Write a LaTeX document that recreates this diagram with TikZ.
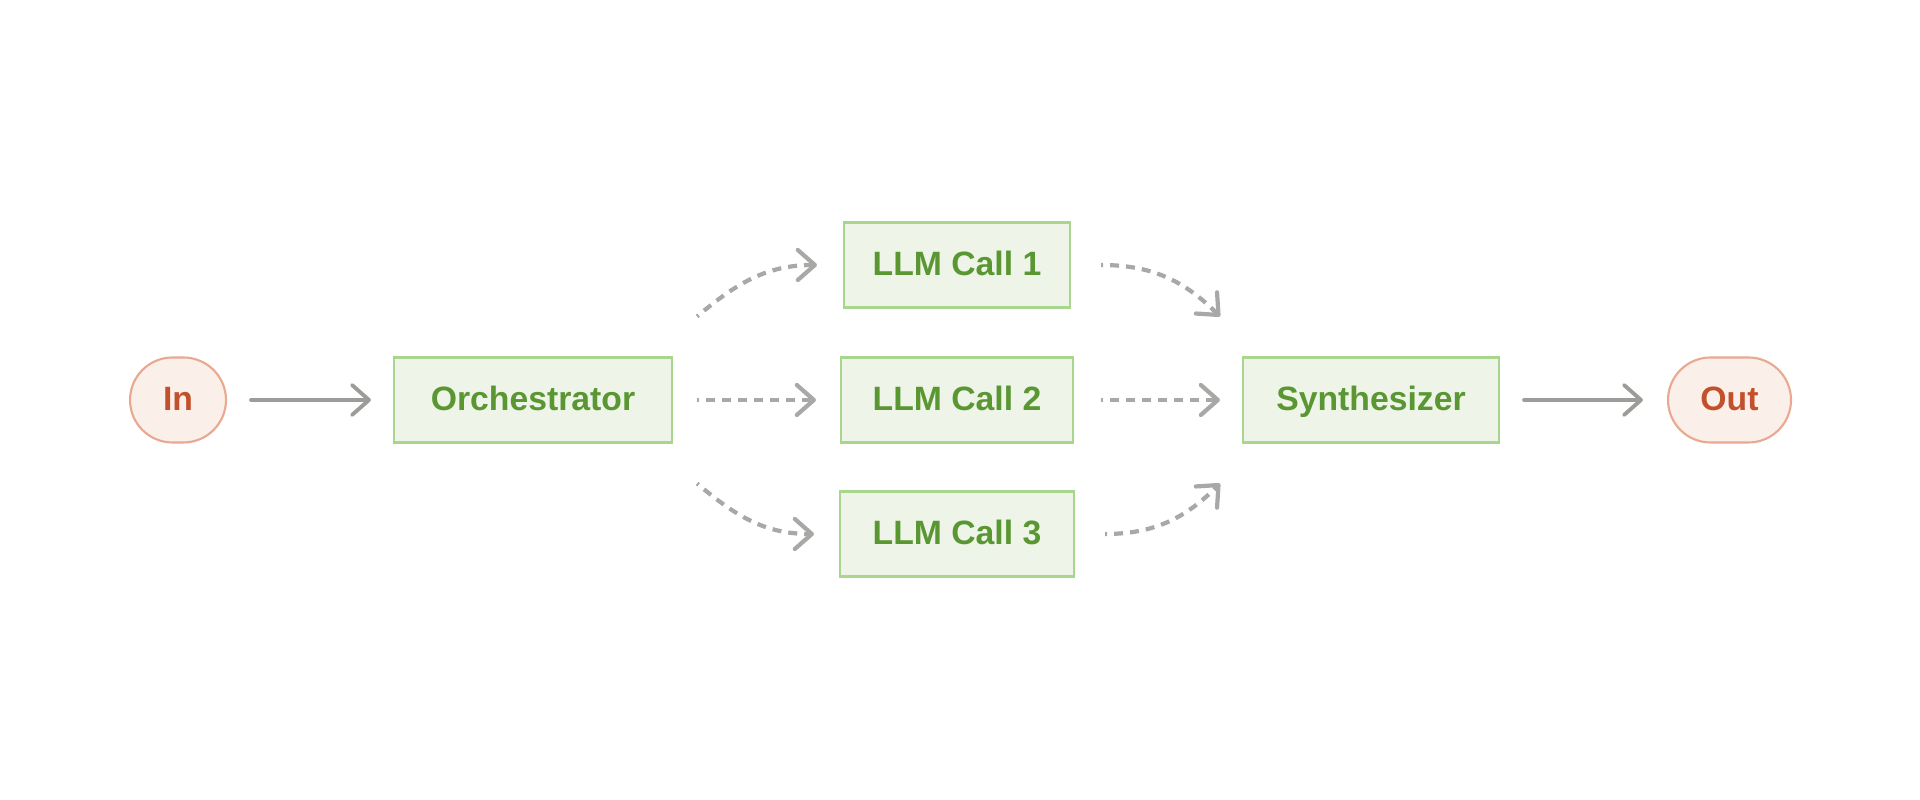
\documentclass[tikz,border=0pt]{standalone}
\usepackage{fontspec}
\setmainfont{Liberation Sans}
\usepackage{tikz}
\usetikzlibrary{arrows.meta}
\definecolor{boxfill}{HTML}{EEF5E8}
\definecolor{boxline}{HTML}{A9D68F}
\definecolor{boxtext}{HTML}{5A9632}
\definecolor{endfill}{HTML}{FBEFE9}
\definecolor{endline}{HTML}{E9A890}
\definecolor{endtext}{HTML}{C2502C}
\definecolor{flowgray}{HTML}{9C9C98}
\definecolor{dashgray}{HTML}{A8A8A6}
\tikzstyle{Box}=[rectangle, minimum height=0.85cm, text height=1.55ex, text depth=0.45ex, fill=boxfill, draw=boxline, line width=0.6pt, text=boxtext, font=\fontsize{9.6}{12}\selectfont\bfseries]
\tikzstyle{Term}=[rectangle, rounded corners=0.425cm, minimum height=0.85cm, text height=1.55ex, text depth=0.45ex, fill=endfill, draw=endline, line width=0.6pt, text=endtext, font=\fontsize{9.6}{12}\selectfont\bfseries]
\tikzstyle{Flow}=[draw=flowgray, line width=1.1pt, line cap=round, -{Straight Barb[length=0.17cm, width=0.3cm, line cap=round, line join=round]}]
\tikzstyle{Fan}=[Flow, draw=dashgray, line width=1.2pt, line cap=butt, dash pattern=on 0.02cm off 0.07cm on 0.09cm off 0.07cm on 0.09cm off 0.07cm on 0.09cm off 0.07cm on 0.09cm off 0.07cm on 0.09cm off 0.07cm on 0.09cm off 0.07cm on 0.09cm off 0.07cm on 0.09cm off 0.07cm on 0.09cm off 0.07cm]

\begin{document}
\begin{tikzpicture}
    \useasboundingbox (0,0) rectangle (19.2,8);
    \path
    (1.78,4) node[Term, minimum width=0.96cm] (in) {In}
    (5.33,4) node[Box, minimum width=2.78cm] (orch) {Orchestrator}
    (9.57,5.35) node[Box, minimum width=2.26cm] (llm1) {LLM Call 1}
    (9.57,4) node[Box, minimum width=2.32cm] (llm2) {LLM Call 2}
    (9.57,2.66) node[Box, minimum width=2.34cm] (llm3) {LLM Call 3}
    (13.71,4) node[Box, minimum width=2.56cm] (synth) {Synthesizer}
    (17.295,4) node[Term, minimum width=1.23cm] (out) {Out};

    \draw[Flow, shorten <=0.24cm, shorten >=0.22cm] (in) -- (orch);
    \draw[Flow, shorten <=0.24cm, shorten >=0.24cm] (synth) -- (out);
    \draw[Fan, shorten <=0.24cm, shorten >=0.24cm] (orch) -- (llm2);
    \draw[Fan, shorten <=0.27cm, shorten >=0.22cm] (llm2) -- (synth);
    \draw[Fan] ([xshift=0.24cm, yshift=0.4cm]orch.north east) to[out=40, in=180] ([xshift=-0.26cm]llm1.west);
    \draw[Fan] ([xshift=0.24cm, yshift=-0.4cm]orch.south east) to[out=-40, in=180] ([xshift=-0.25cm]llm3.west);
    \draw[Fan] ([xshift=0.3cm]llm1.east) to[out=0, in=135] ([xshift=-0.22cm, yshift=0.4cm]synth.north west);
    \draw[Fan] ([xshift=0.3cm]llm3.east) to[out=0, in=-135] ([xshift=-0.22cm, yshift=-0.4cm]synth.south west);
\end{tikzpicture}
\end{document}
